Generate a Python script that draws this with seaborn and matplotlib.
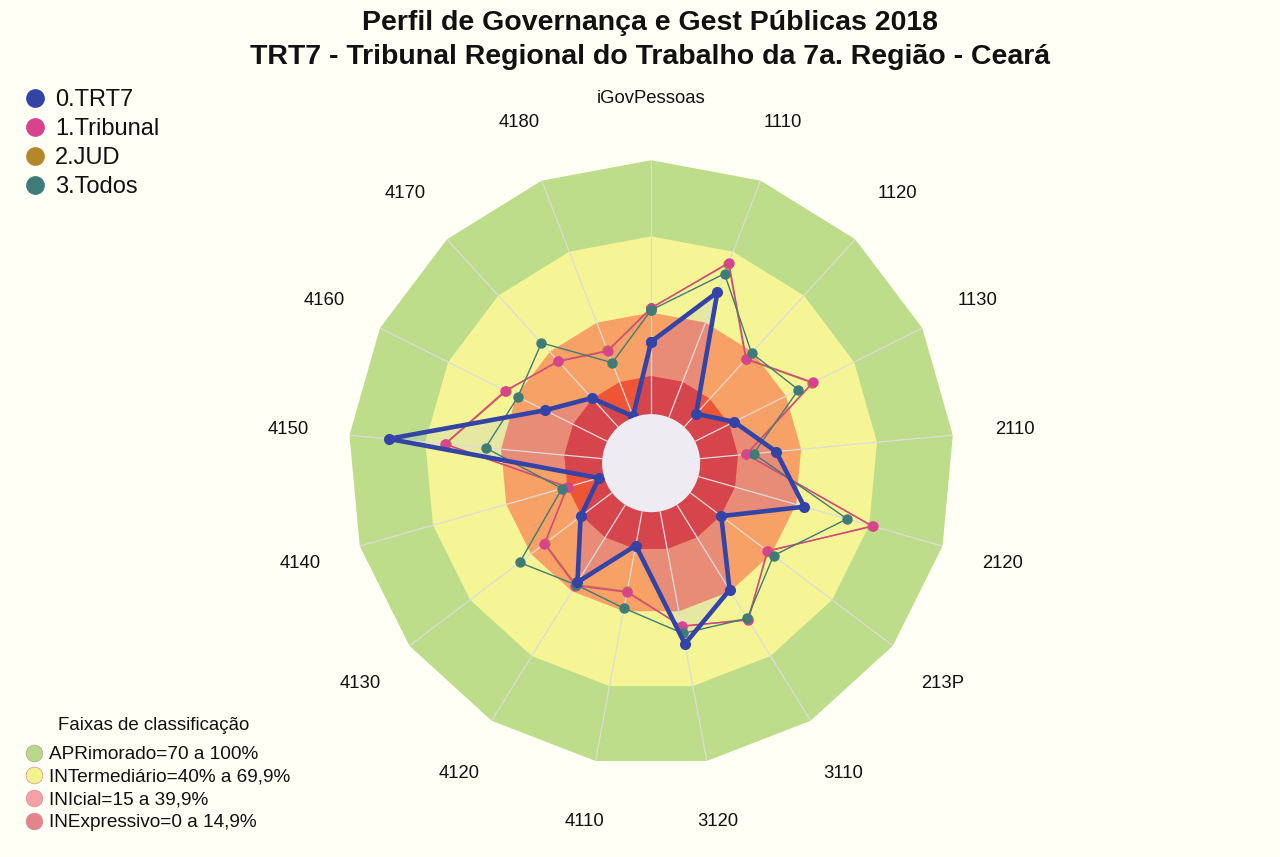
import numpy as np
import matplotlib
matplotlib.use('Agg')
import matplotlib.pyplot as plt
import seaborn as sns
from matplotlib.lines import Line2D
from matplotlib.patches import Circle

sns.set_theme(style='white')
plt.rcParams['font.family'] = ['Liberation Sans', 'DejaVu Sans']
plt.rcParams['text.color'] = '#111111'

# --- dados ---
categorias = ['iGovPessoas', '1110', '1120', '1130', '2110', '2120', '213P', '3110',
              '3120', '4110', '4120', '4130', '4140', '4150', '4160', '4170', '4180']
trt7 = [28.5, 52.9, 7.0, 17.2, 30.1, 43.4, 15.3, 39.4, 53.1, 13.7, 35.8, 15.5, 2.1, 84.5, 27.4, 15.4, 0.5]
tribunal = [41.7, 65.4, 36.3, 52.0, 18.4, 71.5, 38.0, 53.4, 45.9, 32.4, 37.4, 33.4, 14.9, 62.3, 44.8, 34.9, 28.0]
jud = [41.9, 65.0, 36.0, 51.6, 18.2, 71.0, 38.3, 53.0, 46.2, 32.0, 37.0, 33.0, 15.2, 62.0, 44.4, 35.2, 28.3]
todos = [41.0, 60.7, 39.4, 45.5, 21.2, 60.9, 41.1, 52.6, 48.9, 38.8, 37.0, 45.6, 17.2, 46.2, 39.3, 44.8, 23.1]

series_nomes = ['0.TRT7', '1.Tribunal', '2.JUD', '3.Todos']
series_cores = ['#3344a6', '#d6448f', '#b8862a', '#3f7b77']

faixas_lim = [100, 70, 40, 15]
faixas_cor = ['#bddd8a', '#f6f595', '#f8a166', '#ee5536']
# cor de cada faixa quando coberta pela area do TRT7
faixas_cor_trt7 = ['#b3d596', '#e6e8a2', '#e88c78', '#d6444c']
faixas_nome = ['APRimorado=70 a 100%', 'INTermediário=40% a 69,9%',
               'INIcial=15 a 39,9%', 'INExpressivo=0 a 14,9%']
faixas_leg_cor = ['#b6d98a', '#f3f38e', '#f5a0a6', '#e3838a']

BG = '#fffff5'

valores = dict(zip(series_nomes, [trt7, tribunal, jud, todos]))
cores = dict(zip(series_nomes, series_cores))

n = len(categorias)
ang = np.arange(n) * 2 * np.pi / n
ang_f = np.append(ang, 2 * np.pi)


def fechar(v):
    return np.append(v, v[0])


fig = plt.figure(figsize=(12.8, 8.57), dpi=100, facecolor=BG)
ax = fig.add_axes([0.272, 0.106, 0.4734, 0.7071], projection='polar')
ax.set_theta_zero_location('N')
ax.set_theta_direction(-1)
ax.set_ylim(0, 100)
ax.set_rorigin(-19.3)
ax.set_facecolor('none')

# faixas de classificacao (poligonos) + area do TRT7 recortada em cada faixa
for lim, cor, cor_in in zip(faixas_lim, faixas_cor, faixas_cor_trt7):
    faixa = ax.fill(ang_f, np.full(n + 1, lim), color=cor, lw=0, zorder=1)[0]
    area = ax.fill(ang_f, fechar(trt7), color=cor_in, lw=0, zorder=1)[0]
    area.set_clip_path(faixa)

# furo central
ax.add_patch(Circle((0.5, 0.5), 0.5 * 19.3 / 119.3, transform=ax.transAxes,
                    facecolor='#efebf3', edgecolor='none', zorder=2, clip_on=False))

ax.set_xticks(ang)
ax.set_xticklabels([])
ax.set_yticks([])
ax.tick_params(length=0)
ax.set_axisbelow(False)
ax.grid(True, axis='x', color='#dcdcdc', lw=0.9)
for s in ax.spines.values():
    s.set_visible(False)
    s.set_linewidth(0)
    s.set_color('none')

# linhas das series
estilo = {'2.JUD': (1.0, 7.5, 3), '1.Tribunal': (1.0, 7.5, 4),
          '3.Todos': (1.0, 7.5, 5), '0.TRT7': (3.3, 8.0, 6)}
for nome in ['2.JUD', '1.Tribunal', '3.Todos', '0.TRT7']:
    lw, ms, z = estilo[nome]
    sns.lineplot(x=ang_f, y=fechar(valores[nome]), ax=ax, sort=False, estimator=None,
                 color=cores[nome], lw=lw, marker='o', markersize=ms,
                 markeredgewidth=0, zorder=z)
ax.set_xlabel('')
ax.set_ylabel('')

for a, c in zip(ang, categorias):
    ax.text(a, 124.4, c, ha='center', va='center', fontsize=13.3, color='#111111',
            clip_on=False)

fig.text(0.508, 1 - 23 / 857, 'Perfil de Governança e Gest Públicas 2018',
         ha='center', va='center', fontsize=20.5, weight='bold', color='#111111')
fig.text(0.508, 1 - 57 / 857, 'TRT7 - Tribunal Regional do Trabalho da 7a. Região - Ceará',
         ha='center', va='center', fontsize=20.5, weight='bold', color='#111111')

h1 = [Line2D([], [], ls='', marker='o', ms=13.5, color=cores[k], mew=0) for k in series_nomes]
fig.legend(h1, series_nomes, loc='upper left', bbox_to_anchor=(0.018, 0.896),
           frameon=False, fontsize=17, handlelength=1.0, handletextpad=0.35,
           labelspacing=0.3, borderpad=0, borderaxespad=0, labelcolor='#111111')

fig.text(154 / 1280, 1 - 725 / 857, 'Faixas de classificação', ha='center', va='center',
         fontsize=13.4, color='#111111')
h2 = [Line2D([], [], ls='', marker='o', ms=12, color=c, mec='#d09090', mew=0.5)
      for c in faixas_leg_cor]
fig.legend(h2, faixas_nome, loc='upper left', bbox_to_anchor=(0.0195, 1 - 746 / 857),
           frameon=False, fontsize=13.7, handlelength=0.9, handletextpad=0.35,
           labelspacing=0.28, borderpad=0, borderaxespad=0, labelcolor='#111111')

fig.savefig('out.png', dpi=100, facecolor=BG)
